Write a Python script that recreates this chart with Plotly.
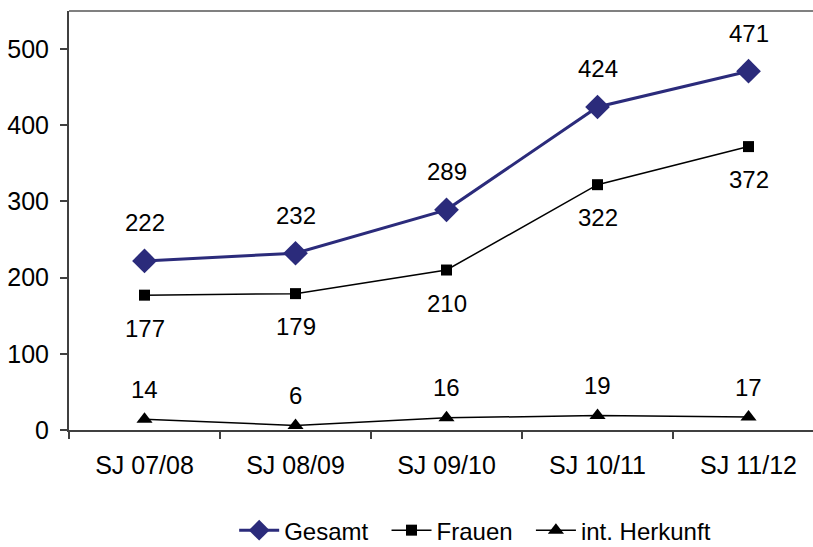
import plotly.graph_objects as go

categories = ["SJ 07/08", "SJ 08/09", "SJ 09/10", "SJ 10/11", "SJ 11/12"]
gesamt = [222, 232, 289, 424, 471]
frauen = [177, 179, 210, 322, 372]
herkunft = [14, 6, 16, 19, 17]
series_names = ["Gesamt", "Frauen", "int. Herkunft"]

FONT = "Liberation Sans, Arial, sans-serif"
PAD = "\u00a0\u00a0"
fig = go.Figure()

fig.add_trace(go.Scatter(x=categories, y=gesamt, name=series_names[0] + PAD, mode="lines+markers",
                         line=dict(color="#2B2B7B", width=3),
                         marker=dict(symbol="diamond", size=19, color="#2B2B7B")))
fig.add_trace(go.Scatter(x=categories, y=frauen, name=series_names[1] + PAD, mode="lines+markers",
                         line=dict(color="black", width=1.5),
                         marker=dict(symbol="square", size=11, color="black")))
fig.add_trace(go.Scatter(x=categories, y=herkunft, name=series_names[2], mode="lines+markers",
                         line=dict(color="black", width=1.5),
                         marker=dict(symbol="triangle-up", size=14, color="black")))

for series, shift in ((gesamt, 38), (frauen, -33), (herkunft, 30)):
    for c, v in zip(categories, series):
        fig.add_annotation(x=c, y=v, text=str(v), showarrow=False, yshift=shift,
                           font=dict(family=FONT, size=24, color="black"))

fig.add_shape(type="line", xref="paper", yref="paper", x0=0, x1=1, y0=1, y1=1,
              line=dict(color="#808080", width=2))

fig.update_layout(
    width=813, height=547,
    margin=dict(l=69, r=0, t=11, b=117, autoexpand=False),
    paper_bgcolor="white", plot_bgcolor="white",
    font=dict(family=FONT, size=25, color="black"),
    showlegend=True,
    legend=dict(orientation="h", x=0.222, xanchor="left", y=-0.24, yanchor="middle",
                font=dict(family=FONT, size=24), itemwidth=40, tracegroupgap=0),
)
fig.update_xaxes(type="category", range=[-0.5, 4.427], tickson="boundaries", automargin=False,
                 showline=True, linecolor="#404040", linewidth=2,
                 ticks="outside", ticklen=7, tickcolor="#404040", tickwidth=1.5,
                 showgrid=False, zeroline=False, ticklabelstandoff=12,
                 tickfont=dict(size=25))
fig.update_yaxes(range=[0, 550], tickvals=[0, 100, 200, 300, 400, 500], automargin=False,
                 showline=True, linecolor="#404040", linewidth=2,
                 ticks="outside", ticklen=7, tickcolor="#404040", tickwidth=1.5,
                 showgrid=False, zeroline=False, ticklabelstandoff=6,
                 tickfont=dict(size=25))

fig.write_html("out.html", config={"displayModeBar": False},
               post_script="document.body.style.margin='0';document.body.style.overflow='hidden';")
